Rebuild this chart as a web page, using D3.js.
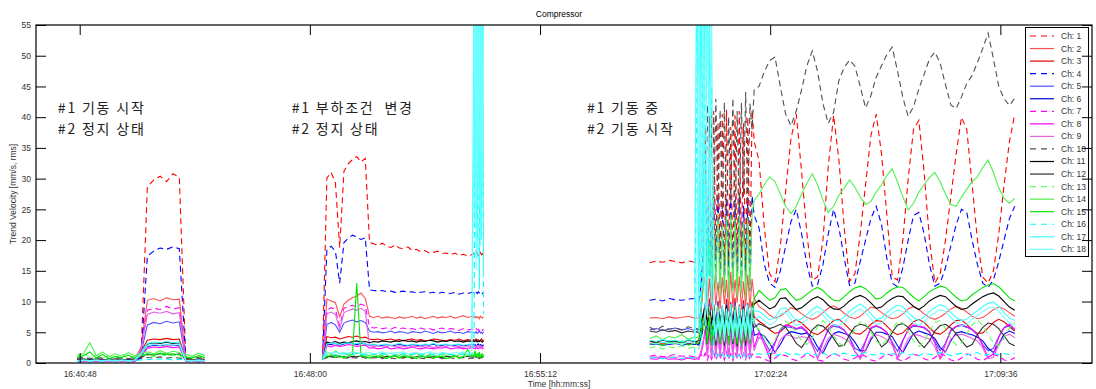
<!DOCTYPE html>
<html>
<head>
<meta charset="utf-8">
<script src="https://cdn.jsdelivr.net/npm/d3@7"></script>
<style>
  body { margin: 0; background: #fff; }
  svg text { font-family: "Liberation Sans", Arial, sans-serif; }
  .note { font-family: "Noto Sans CJK KR", sans-serif; font-size: 14px; fill: #222; letter-spacing: 1.8px; }
</style>
</head>
<body>
<div id="chart"></div>
<script>
// ---- data ----
// each channel = list of runs; run k starts at segStart[k] and steps segStep[k] seconds
const segStart = ["16:40:43", "16:48:24", "16:53:08", "16:58:38", "17:00:06", "17:02:03"]
const segStep = [12, 8, 2, 12, 4, 10]

const ch1 = [
  [0.6,0.5,0.7,0.5,0.6,0.4,0.6,0.5,0.7,0.5,0.8,28.6,29.8,30.4,29.5,30.8,30.2,0.9,0.6,0.5,0.6],
  [2.0,30.1,31.0,29.3,18.8,31.2,32.4,33.1,33.6,32.7,33.3,19.6,19.4,19.1,19.5,19.0,18.8,19.2,18.7,18.6,18.9,18.3,18.5,18.1,18.3,17.9,18.0,18.2,17.8,17.9,17.6,17.9,17.5,17.7,17.4,17.6],
  [17.8,17.5,18.2,17.9,17.4,17.7,18.0,17.6,17.8,17.3],
  [16.3,16.6,16.4,16.7,16.5,16.3,16.6,16.4],
  [16.5,16.2,19.5,28.0,38.5,15.2,40.2,14.0,41.0,16.8,39.2,15.1,40.5,13.4,41.2,16.0,38.4,14.2,40.3,15.3,41.0,17.1,39.0,14.1,40.0,16.2,41.2,36.0],
  [33,22,14.5,13.2,19,28,36.5,40.5,31,21,13.5,14,20,32,40.3,33,22,13.3,14.5,21,29,37,40.5,34,24,14,13.5,20,30,38,39.5,31,20,13,14.5,20,27,34,40,38,29,20,14,13,15,21,29,36,40.5]
]
const ch2 = [
  [0.4,0.5,0.3,0.5,0.4,0.6,0.4,0.5,0.4,0.6,2.5,10.2,10.5,10.1,10.6,10.3,10.4,0.7,0.5,0.4,0.5],
  [1.0,10.4,10.1,9.8,7.5,9.6,10.2,10.6,10.9,11.4,10.5,7.6,7.4,7.6,7.3,7.5,7.4,7.2,7.5,7.3,7.4,7.6,7.3,7.5,7.2,7.4,7.6,7.3,7.5,7.4,7.6,7.3,7.5,7.7,7.4,7.6],
  [7.5,7.3,7.6,7.4,7.5,7.2,7.6,7.4,7.3,7.5],
  [7.3,7.4,7.2,7.5,7.3,7.4,7.6,7.3],
  [7.4,7.2,8.5,12.0,14.2,9.1,13.8,8.6,14.5,9.4,13.2,8.8,14.0,9.6,13.5,8.4,14.8,9.0,13.6,9.8,14.1,8.7,13.3,9.2,14.4,8.9,13.7,10.5],
  [9.2,8.6,7.8,7.3,7.6,8.3,9.0,8.7,8.0,7.4,7.1,7.5,8.2,8.9,9.3,8.8,8.1,7.5,7.2,7.6,8.4,9.1,8.9,8.2,7.6,7.2,7.4,8.0,8.8,9.2,8.7,8.0,7.4,7.1,7.5,8.1,8.8,9.2,8.9,8.3,7.6,7.2,7.4,8.0,8.7,9.1,8.8,8.2,7.6]
]
const ch3 = [
  [0.3,0.4,0.3,0.4,0.3,0.5,0.3,0.4,0.3,0.5,1.8,3.7,3.9,3.8,4.0,3.8,3.9,0.6,0.4,0.3,0.4],
  [0.8,4.3,4.1,4.2,3.9,4.1,4.3,4.2,4.4,4.1,4.2,3.9,3.8,3.9,3.7,3.8,3.9,3.7,3.8,3.6,3.8,3.9,3.7,3.8,3.6,3.7,3.9,3.8,3.7,3.6,3.8,3.7,3.9,3.6,3.8,3.7],
  [3.8,3.6,3.9,3.7,3.8,3.5,3.7,3.9,3.6,3.8],
  [3.2,3.4,3.1,3.3,3.2,3.4,3.1,3.3],
  [3.3,3.1,4.5,7.2,9.8,5.4,10.5,6.0,9.6,5.2,10.1,5.8,9.3,6.3,10.4,5.5,9.9,6.1,10.6,5.3,9.5,6.0,10.2,5.6,9.8,6.2,10.0,7.5],
  [6.8,6.2,5.4,4.8,5.1,5.9,6.6,7.0,6.5,5.7,4.9,4.6,5.2,6.1,6.9,7.1,6.4,5.5,4.8,4.7,5.4,6.3,6.9,6.8,6.0,5.1,4.6,4.9,5.8,6.7,7.1,6.6,5.7,4.9,4.7,5.3,6.2,6.9,7.0,6.3,5.4,4.8,4.9,5.7,6.6,7.1,6.7,5.9,5.2]
]
const ch4 = [
  [0.5,0.4,0.6,0.4,0.5,0.3,0.5,0.4,0.6,0.4,0.7,17.4,18.2,18.7,18.5,18.9,18.6,0.8,0.5,0.4,0.5],
  [1.2,18.5,19.0,18.2,13.0,19.6,20.3,20.8,20.5,20.1,20.4,11.9,11.8,11.7,11.8,11.6,11.7,11.5,11.6,11.7,11.5,11.6,11.4,11.5,11.6,11.4,11.5,11.3,11.5,11.4,11.3,11.5,11.2,11.4,11.3,11.5],
  [11.4,11.2,11.5,11.3,11.6,11.4,11.2,11.5,11.3,11.4],
  [10.2,10.4,10.1,10.5,10.3,10.2,10.4,10.5],
  [10.3,10.1,12.5,18.0,25.5,12.4,27.0,11.8,26.2,13.0,27.4,12.2,25.8,11.5,26.9,12.8,27.3,11.9,26.0,12.6,27.1,12.1,25.6,13.2,26.8,11.7,27.2,24.0],
  [22,16,13,12.3,15,19,23,25,21,16,12.5,12.8,16,21,25,22,17,12.6,13,16.5,20,23.5,25.5,22.5,17,13,12.4,15.5,20,24,24.5,21,16,12.5,13,15.5,19,22.5,25,24.5,20,16,13,12.3,13.5,16.5,20,23.5,25.5]
]
const ch5 = [
  [0.3,0.4,0.3,0.2,0.4,0.3,0.4,0.3,0.2,0.4,1.5,6.2,6.6,6.4,6.8,6.5,6.7,0.5,0.3,0.4,0.3],
  [0.6,6.3,6.6,6.2,5.0,6.5,6.8,7.0,6.7,6.9,6.6,5.2,5.0,5.1,4.9,5.0,5.2,4.9,5.1,5.0,4.8,5.1,5.0,4.9,5.2,5.0,4.8,5.1,4.9,5.0,5.2,4.9,5.0,4.8,5.1,5.0],
  [5.0,4.9,5.1,4.8,5.0,5.2,4.9,5.0,4.8,5.1],
  [5.4,5.6,5.3,5.5,5.7,5.4,5.6,5.3],
  [5.5,5.2,6.5,8.0,9.6,5.0,9.8,4.6,9.4,5.3,10.0,4.8,9.2,5.5,9.7,4.9,9.5,5.1,9.9,4.7,9.3,5.4,9.8,5.0,9.6,4.8,9.4,6.5],
  [5.2,3.6,2.0,3.4,5.3,5.9,5.8,5.5,5.7,5.0,3.3,1.9,3.5,5.4,6.0,5.8,5.3,4.1,2.4,1.9,3.6,5.6,6.0,5.6,5.0,3.4,1.9,3.7,5.4,6.0,5.9,5.7,5.0,3.5,2.0,3.2,5.2,5.9,6.1,5.8,5.4,4.6,3.0,2.0,2.4,4.3,5.7,6.1,5.4]
]
const ch6 = [
  [0.2,0.3,0.2,0.3,0.2,0.3,0.2,0.3,0.2,0.3,1.2,2.7,2.9,2.8,3.0,2.9,2.8,0.4,0.3,0.2,0.3],
  [0.5,3.1,3.0,3.2,2.9,3.1,3.3,3.2,3.0,3.2,3.1,2.9,3.0,2.8,2.9,3.0,2.8,2.9,3.1,2.9,2.8,3.0,2.9,2.8,3.0,2.9,3.1,2.8,2.9,3.0,2.8,2.9,3.0,2.8,2.9,3.0],
  [2.9,3.0,2.8,2.9,3.1,2.8,3.0,2.9,2.8,3.0],
  [3.0,3.1,2.9,3.0,3.2,2.9,3.1,3.0],
  [3.1,2.9,4.0,5.5,7.4,3.2,7.1,2.8,7.6,3.4,7.0,3.0,7.3,2.6,7.5,3.3,6.9,3.1,7.2,2.9,7.6,3.5,7.0,2.7,7.4,3.2,7.1,4.5],
  [4.8,4.4,3.2,1.7,3.0,4.6,5.1,4.9,4.7,4.9,4.2,2.6,1.6,3.4,4.8,5.1,4.8,4.5,3.4,2.0,2.0,3.8,5.0,5.0,4.7,4.3,2.8,1.7,3.3,4.8,5.2,4.9,4.6,4.0,2.5,1.8,3.6,4.9,5.1,4.8,4.6,4.2,3.6,2.4,1.7,3.1,4.7,5.2,4.8]
]
const ch7 = [
  [0.3,0.2,0.3,0.2,0.3,0.2,0.3,0.2,0.3,0.2,2.0,8.6,8.9,8.7,9.2,8.8,9.0,0.4,0.3,0.2,0.3],
  [0.8,8.6,9.0,8.7,6.0,8.9,9.2,9.4,9.1,9.6,9.3,5.9,5.7,5.8,5.6,5.7,5.5,5.8,5.6,5.7,5.5,5.6,5.4,5.7,5.5,5.6,5.4,5.5,5.7,5.4,5.6,5.5,5.3,5.6,5.4,5.5],
  [5.5,5.3,5.6,5.4,5.5,5.2,5.6,5.4,5.3,5.5],
  [1.1,1.3,1.0,1.2,1.4,1.1,1.2,1.0],
  [1.2,1.0,1.4,0.8,1.6,0.5,1.5,0.6,1.7,0.4,1.4,0.7,1.6,0.5,1.8,0.6,1.5,0.4,1.7,0.7,1.4,0.5,1.6,0.6,1.8,0.4,1.5,0.9],
  [1.0,0.6,0.3,0.8,1.4,1.2,0.7,0.4,0.9,1.5,1.1,0.5,0.3,1.0,1.6,1.2,0.6,0.4,0.8,1.4,1.1,0.5,0.3,0.9,1.5,1.2,0.6,0.3,0.8,1.4,1.2,0.7,0.4,0.9,1.6,1.1,0.5,0.3,0.8,1.5,1.2,0.6,0.4,0.9,1.4,1.1,0.5,0.4,0.9]
]
const ch8 = [
  [0.2,0.3,0.2,0.3,0.2,0.3,0.2,0.3,0.2,0.3,1.0,2.4,2.6,2.5,2.7,2.5,2.6,0.3,0.2,0.3,0.2],
  [0.5,2.8,2.6,2.9,2.7,2.8,3.0,2.9,2.7,2.8,2.9,2.4,2.5,2.3,2.4,2.6,2.3,2.4,2.5,2.3,2.4,2.6,2.4,2.3,2.5,2.4,2.3,2.5,2.4,2.6,2.3,2.4,2.5,2.3,2.4,2.5],
  [2.4,2.3,2.5,2.4,2.3,2.5,2.4,2.6,2.3,2.4],
  [0.7,0.6,0.8,0.6,0.7,0.5,0.8,0.6],
  [0.7,0.6,1.5,3.0,5.6,1.2,5.2,0.9,5.8,1.4,5.4,1.0,5.9,1.3,5.1,0.8,5.7,1.2,5.5,1.0,5.8,1.5,5.3,0.9,5.6,1.1,5.4,2.5],
  [5.0,3.0,0.8,3.2,5.5,6.2,6.0,5.6,5.9,5.2,3.0,0.7,3.4,5.6,6.3,6.0,5.4,4.0,1.8,0.9,3.5,5.8,6.1,5.7,5.0,3.2,0.8,3.6,5.5,6.2,6.0,5.8,5.1,3.3,0.8,3.1,5.4,6.0,6.3,5.9,5.5,4.6,2.8,0.9,1.5,4.2,5.8,6.3,5.5]
]
const ch9 = [
  [0.3,0.4,0.3,0.4,0.3,0.4,0.3,0.4,0.3,0.4,2.2,7.9,8.3,8.1,8.4,8.0,8.2,0.5,0.4,0.3,0.4],
  [0.7,8.0,8.3,7.9,5.5,8.2,8.5,8.8,8.6,8.9,8.4,2.8,2.7,2.8,2.6,2.7,2.9,2.6,2.8,2.7,2.5,2.8,2.7,2.6,2.8,2.7,2.5,2.8,2.6,2.7,2.9,2.6,2.7,2.5,2.8,2.7],
  [2.7,2.6,2.8,2.5,2.7,2.9,2.6,2.7,2.5,2.8],
  [0.9,1.0,0.8,1.0,0.9,1.1,0.8,1.0],
  [0.9,0.8,2.0,3.5,4.8,1.0,4.5,0.8,5.0,1.2,4.6,0.9,5.1,1.1,4.4,0.7,4.9,1.0,4.7,0.8,5.0,1.3,4.5,0.9,4.8,1.0,4.6,2.0],
  [4.2,3.5,1.5,1.6,3.8,4.6,4.4,4.0,4.3,4.1,2.8,0.8,2.2,4.0,4.7,4.4,4.0,3.4,1.9,0.6,2.2,4.2,4.6,4.3,3.8,2.9,0.7,2.0,4.0,4.7,4.5,4.2,3.9,2.6,0.6,1.9,3.9,4.5,4.7,4.4,4.0,3.6,2.4,0.7,0.9,3.0,4.3,4.7,4.1]
]
const ch10 = [
  [0.8,0.9,0.7,0.9,0.8,0.7,0.9,0.8,0.7,0.9,0.8,0.9,0.8,1.0,0.8,0.9,0.8,0.7,0.8,0.9,0.7],
  [0.6,0.9,0.8,1.0,0.8,0.9,0.7,0.9,0.8,1.0,0.8,0.7,0.9,0.8,0.7,0.9,0.8,0.7,0.9,0.8,1.0,0.7,0.9,0.8,0.7,0.9,0.8,1.0,0.7,0.8,0.9,0.7,0.8,0.9,0.7,0.8],
  [0.8,0.9,0.7,0.8,0.9,0.7,0.8,0.9,0.7,0.8],
  [5.8,5.3,6.0,5.5,5.7,5.4,5.9,5.6],
  [5.6,5.4,8.0,14.0,30.2,42.0,24.5,40.3,22.1,43.0,25.4,41.2,23.3,42.4,21.5,40.1,26.2,43.1,22.3,41.0,24.2,42.3,27.0,44.1,23.2,42.2,38.0,44.5],
  [45,47.4,49.2,49.8,45,40.5,38.6,41,44.5,48.4,50.8,47.4,42.2,39,40.8,46,48.1,49.3,48.3,45,41.5,43.5,46.5,48.4,50.2,51.4,47.5,43.2,40.1,41.7,44.6,47,49.5,50.6,48.8,45.3,42,41.4,43.3,45.5,46.8,48.9,51.2,53.7,49.5,45,43,41.9,43.1]
]
const ch11 = [
  [0.4,0.5,0.4,0.5,0.4,0.5,0.4,0.5,0.4,0.5,1.5,3.1,3.3,3.2,3.4,3.2,3.3,0.5,0.4,0.5,0.4],
  [0.6,3.4,3.3,3.5,3.2,3.4,3.3,3.5,3.6,3.4,3.5,3.3,3.5,3.4,3.6,3.5,3.4,3.6,3.5,3.7,3.5,3.6,3.4,3.6,3.5,3.7,3.6,3.4,3.6,3.5,3.7,3.5,3.6,3.4,3.6,3.5],
  [3.6,3.5,3.7,3.4,3.6,3.5,3.7,3.5,3.4,3.6],
  [3.6,3.4,3.7,3.5,3.6,3.3,3.7,3.5],
  [3.5,3.7,5.5,7.8,9.2,6.1,8.8,6.4,9.3,5.8,9.0,6.6,8.7,6.2,9.4,5.9,8.9,6.5,9.1,6.0,8.6,6.3,9.2,6.1,9.0,6.4,8.8,9.6],
  [10.2,9.5,8.8,9.2,10.5,10.6,9.6,8.7,9.0,9.7,10.4,10.8,10.3,9.4,8.8,8.7,9.3,10.1,10.7,11.0,10.6,9.8,8.9,9.1,9.9,10.5,10.9,10.8,10.0,9.2,8.7,9.3,10.1,10.6,11.0,10.8,10.0,9.2,8.7,8.9,9.6,10.2,10.8,11.2,11.4,10.9,10.0,9.1,8.6]
]
const ch12 = [
  [0.6,0.7,0.5,0.7,0.6,0.5,0.7,0.6,0.5,0.7,0.9,1.4,1.3,1.5,1.4,1.3,1.5,0.6,0.5,0.7,0.6],
  [0.5,1.1,1.0,1.2,1.0,1.1,0.9,1.1,1.0,1.2,1.0,0.9,1.1,1.0,0.9,1.1,1.0,1.2,0.9,1.0,1.1,0.9,1.0,1.2,1.0,0.9,1.1,1.0,0.9,1.1,1.0,1.2,0.9,1.0,1.1,1.0],
  [1.0,1.1,0.9,1.0,1.2,0.9,1.0,1.1,0.9,1.0],
  [5.2,5.0,5.4,5.1,5.3,4.9,5.2,5.0],
  [5.1,4.9,4.5,5.8,6.5,3.0,6.2,3.4,6.8,2.8,6.4,3.2,6.6,2.9,6.1,3.5,6.7,3.1,6.3,2.7,6.5,3.3,6.9,3.0,6.2,3.4,6.6,5.8],
  [6.4,6.0,5.6,5.9,6.3,5.8,4.6,3.2,2.5,3.8,5.4,6.2,6.0,5.2,4.0,2.7,2.9,4.6,5.9,6.3,6.1,5.4,4.1,2.6,3.3,5.0,6.2,6.4,5.8,4.7,3.4,2.5,3.6,5.2,6.1,6.3,5.7,4.8,3.6,2.6,3.0,4.6,5.8,6.5,6.3,5.6,4.4,3.2,2.8]
]
const ch13 = [
  [1.0,1.6,0.9,1.3,0.8,1.2,0.9,1.4,0.8,1.1,1.3,1.2,1.0,1.4,1.1,1.3,1.0,1.1,0.9,1.3,0.8],
  [1.0,1.2,1.4,1.0,1.3,0.9,1.2,1.5,1.0,1.3,1.1,0.9,1.2,1.0,1.3,0.8,1.1,1.2,0.9,1.3,1.0,1.1,0.8,1.2,1.0,1.3,0.9,1.1,1.2,0.8,1.0,1.3,0.9,1.1,1.0,1.2],
  [1.1,1.3,0.9,1.2,1.0,1.4,0.9,1.1,1.3,1.0],
  [2.4,2.7,2.3,2.6,2.5,2.8,2.4,2.6],
  [2.5,2.3,3.5,5.0,8.6,4.0,9.2,3.6,8.8,4.3,9.5,3.8,8.4,4.1,9.0,3.5,8.7,4.4,9.3,3.9,8.5,4.2,9.1,3.7,8.9,4.0,9.4,6.0],
  [5.5,4.2,3.0,3.8,5.5,6.8,6.2,4.9,3.6,3.0,4.1,5.9,6.9,6.0,4.5,3.2,2.8,3.9,5.6,6.7,6.4,5.0,3.5,2.9,3.7,5.4,6.8,6.5,5.1,3.6,2.7,3.5,5.2,6.6,6.9,5.6,4.0,2.9,3.3,4.8,6.2,7.0,6.1,4.6,3.3,2.8,4.0,5.7,6.6]
]
const ch14 = [
  [1.3,1.5,3.3,1.2,1.8,1.0,1.5,1.1,1.7,1.2,1.6,1.8,1.5,2.0,1.6,1.9,1.7,1.4,1.1,1.6,1.2],
  [1.2,1.8,1.4,2.0,1.5,1.7,1.3,1.9,1.5,1.6,1.4,1.2,1.5,1.1,1.6,1.3,1.0,1.4,1.2,1.5,1.1,1.3,1.6,1.2,1.0,1.4,1.3,1.1,1.5,1.2,1.4,1.0,1.3,1.5,1.2,1.4],
  [1.3,1.5,1.1,1.4,1.2,1.6,1.0,1.3,1.5,1.2],
  [4.0,4.4,3.8,4.3,4.1,4.6,3.9,4.2],
  [4.1,4.3,8.0,14.0,23.5,11.2,24.0,10.5,23.2,11.8,24.4,10.9,22.8,11.4,23.9,10.6,24.2,11.6,23.4,10.8,24.1,11.3,22.9,10.7,23.6,11.5,24.3,26.5],
  [27.5,29,30.3,29.5,27.5,25.5,24.3,25.5,27.5,29.3,30.8,29,26.5,24.5,25.5,27.3,28.5,29.8,28.6,27,25.8,26.3,27.8,29,30.5,31.6,29.5,27,24.9,26,27.8,29,30.2,31,29.5,27.5,25.8,25.5,27,28.3,29.5,30.3,31.8,33,31,28.5,26.8,26,26.8]
]
const ch15 = [
  [0.9,1.2,1.8,0.8,1.4,0.7,1.1,0.9,1.3,0.8,1.2,1.5,1.3,1.6,1.4,1.5,1.3,1.0,0.8,1.2,0.9],
  [0.8,1.0,1.3,0.9,1.2,0.8,1.1,1.4,13.0,1.2,1.0,0.8,1.1,0.9,1.2,0.7,1.0,1.1,0.8,1.2,0.9,1.0,0.7,1.1,0.9,1.2,0.8,1.0,1.1,0.7,0.9,1.2,0.8,1.0,2.2,1.1],
  [1.2,2.0,0.9,1.5,1.1,1.8,0.8,1.4,1.0,1.3],
  [3.0,3.3,2.8,3.4,3.1,3.6,2.9,3.2],
  [3.1,3.3,5.0,7.2,7.0,3.2,7.4,2.8,6.8,3.5,7.3,3.0,6.9,3.3,7.5,2.9,7.1,3.4,6.7,3.1,7.2,2.7,7.0,3.6,6.8,3.0,7.4,10.5],
  [11.8,11.0,10.2,10.6,11.9,12.1,11.1,10.2,10.5,11.2,11.9,12.3,11.8,10.9,10.2,10.1,10.8,11.6,12.2,12.5,12.1,11.3,10.4,10.6,11.4,12.0,12.4,12.3,11.5,10.7,10.1,10.8,11.6,12.1,12.5,12.3,11.5,10.7,10.1,10.3,11.1,11.7,12.3,12.7,12.9,12.4,11.5,10.6,10.1]
]
const ch16 = [
  [0.3,0.4,0.3,0.4,0.3,0.4,0.3,0.4,0.3,0.4,0.5,0.6,0.5,0.7,0.6,0.5,0.6,0.4,0.3,0.4,0.3],
  [0.9,1.4,1.5,1.3,1.4,1.5,1.3,1.4,1.6,1.4,1.3,1.5,1.4,1.3,1.5,1.4,1.6,1.3,1.4,1.5,1.3,1.4,1.6,1.4,1.3,1.5,1.4,1.3,1.5,1.6,1.4,1.3,1.5,1.4,1.3,1.5],
  [3,35,64,20,58,12,70,26,61,8],
  [0.8,0.9,0.7,0.8,1.0,0.7,0.9,0.8],
  [40,66,3,58,22,72,14,45,1.2,0.8,1.4,0.9,1.5,0.7,1.3,1.0,1.6,0.8,1.4,1.1,1.3,0.9,1.5,0.8,1.4,1.0,1.2,1.4],
  [1.5,1.3,1.6,1.2,1.4,1.7,1.3,1.5,1.2,1.6,1.4,1.3,1.7,1.2,1.5,1.4,1.6,1.3,1.2,1.5,1.7,1.4,1.3,1.6,1.2,1.5,1.4,1.7,1.3,1.5,1.2,1.6,1.4,1.3,1.7,1.5,1.2,1.4,1.6,1.3,1.5,1.7,1.2,1.4,1.6,1.3,1.5,1.4,1.6]
]
const ch17 = [
  [0.4,0.5,0.4,0.5,0.4,0.5,0.4,0.5,0.4,0.5,1.6,3.2,3.4,3.3,3.5,3.3,3.4,0.5,0.4,0.5,0.4],
  [0.5,3.1,3.3,3.2,3.0,3.2,3.3,3.1,3.2,3.3,3.1,3.0,3.1,2.9,3.0,3.1,2.9,3.0,3.2,3.0,2.9,3.1,3.0,2.9,3.1,3.0,3.2,2.9,3.0,3.1,2.9,3.0,3.1,2.9,3.0,3.1],
  [60,22,70,17,65,25,72,20,66,14],
  [3.7,3.5,3.8,3.6,3.7,3.4,3.8,3.6],
  [70,5,65,12,75,8,60,10,9.0,4.5,8.6,5.2,9.4,4.8,8.9,5.5,9.6,4.6,8.7,5.1,9.3,4.9,8.8,5.3,9.5,4.7,9.0,8.5],
  [8.4,7.7,7.0,7.4,8.8,9.0,7.9,6.9,7.2,7.9,8.7,9.2,8.6,7.6,7.0,6.9,7.5,8.4,9.1,9.6,9.0,8.0,7.1,7.3,8.2,8.9,9.4,9.2,8.2,7.4,6.9,7.5,8.4,9.0,9.5,9.2,8.2,7.4,6.9,7.1,7.9,8.5,9.2,9.7,9.9,9.2,8.2,7.3,6.9]
]
const ch18 = [
  [0.3,0.4,0.3,0.4,0.3,0.4,0.3,0.4,0.3,0.4,1.4,2.8,3.0,2.9,3.1,2.9,3.0,0.4,0.3,0.4,0.3],
  [0.4,1.7,1.6,1.8,1.5,1.7,1.6,1.8,1.7,1.5,1.6,1.7,1.5,1.6,1.8,1.6,1.5,1.7,1.6,1.8,1.5,1.6,1.7,1.5,1.6,1.8,1.6,1.5,1.7,1.6,1.5,1.7,1.6,1.8,1.5,1.6],
  [40,70,15,68,28,75,19,62,30,58],
  [3.3,3.1,3.4,3.2,3.3,3.0,3.4,3.2],
  [8,62,15,70,6,68,20,58,7.2,3.8,6.9,4.2,7.5,3.6,7.0,4.4,7.6,3.9,6.8,4.1,7.3,3.7,7.1,4.3,7.4,3.8,6.9,7.0],
  [7.6,6.9,6.2,6.6,8.0,8.2,7.1,6.1,6.4,7.1,7.9,8.4,7.8,6.8,6.2,6.1,6.7,7.6,8.3,8.8,8.2,7.2,6.3,6.5,7.4,8.1,8.6,8.4,7.4,6.6,6.1,6.7,7.6,8.2,8.7,8.4,7.4,6.6,6.1,6.3,7.1,7.7,8.4,8.9,9.1,8.4,7.4,6.5,6.1]
]

const channels = [ch1, ch2, ch3, ch4, ch5, ch6, ch7, ch8, ch9, ch10, ch11, ch12, ch13, ch14, ch15, ch16, ch17, ch18]
const chNames = ["Ch: 1", "Ch: 2", "Ch: 3", "Ch: 4", "Ch: 5", "Ch: 6", "Ch: 7", "Ch: 8", "Ch: 9",
  "Ch: 10", "Ch: 11", "Ch: 12", "Ch: 13", "Ch: 14", "Ch: 15", "Ch: 16", "Ch: 17", "Ch: 18"]
const chColors = ["#ff0000", "#ff5050", "#e60000", "#0000ff", "#5050ff", "#0000e6", "#ff00ff", "#ff00ff", "#e860e8",
  "#505050", "#000000", "#303030", "#60ff60", "#50f050", "#00e600", "#00ffff", "#40ffff", "#70ffff"]
const chDashed = [true, false, false, true, false, false, true, false, false,
  true, false, false, true, false, false, true, false, false]

const timeDomain = ["16:39:26", "17:12:28"]
const xTickLabels = ["16:40:48", "16:48:00", "16:55:12", "17:02:24", "17:09:36"]
const yTickValues = [0, 5, 10, 15, 20, 25, 30, 35, 40, 45, 50, 55]

const noteLines = [
  ["#1 기동 시작", "#2 정지 상태"],
  ["#1 부하조건  변경", "#2 정지 상태"],
  ["#1 기동 중", "#2 기동 시작"]
]
const noteTimes = ["16:40:07", "16:47:26", "16:56:40"]
const noteLevel = 40.6

// ---- layout ----
const W = 1096, H = 389
const mL = 36, mR = 1092, mT = 25, mB = 363

const parse = d3.timeParse("%H:%M:%S")

const x = d3.scaleTime().domain(timeDomain.map(parse)).range([mL, mR])
const y = d3.scaleLinear().domain([0, 55]).range([mB, mT])

const svg = d3.select("#chart").append("svg")
  .attr("width", W)
  .attr("height", H)

svg.append("defs").append("clipPath").attr("id", "plot")
  .append("rect")
  .attr("x", mL).attr("y", mT)
  .attr("width", mR - mL).attr("height", mB - mT)

// turn run lists into time/value points, break where the log stops
const toPoints = (runs) => {
  const pts = []
  runs.forEach((vals, k) => {
    const t0 = parse(segStart[k])
    vals.forEach((v, i) => {
      const t = new Date(t0.getTime() + i * segStep[k] * 1000)
      if (pts.length && t - pts[pts.length - 1].t > 60000) pts.push({ gap: true, t })
      pts.push({ t, v })
    })
  })
  return pts
}

const line = d3.line()
  .defined(d => !d.gap)
  .x(d => x(d.t))
  .y(d => y(d.v))

const plot = svg.append("g").attr("clip-path", "url(#plot)")

channels.forEach((runs, i) => {
  plot.append("path")
    .datum(toPoints(runs))
    .attr("fill", "none")
    .attr("stroke", chColors[i])
    .attr("stroke-width", 1.1)
    .attr("stroke-dasharray", chDashed[i] ? "6,4" : null)
    .attr("d", line)
})

// annotations: one text block per note, second line as tspan
noteLines.forEach((lines, k) => {
  const nx = x(parse(noteTimes[k]))
  const t = svg.append("text")
    .attr("class", "note")
    .attr("x", nx)
    .attr("y", y(noteLevel))
    .style("white-space", "pre")
  lines.forEach((txt, j) => {
    t.append("tspan")
      .attr("x", nx)
      .attr("dy", j ? 21 : 0)
      .text(txt)
  })
})

// legend
const lg = svg.append("g").attr("class", "legend")
lg.append("rect")
  .attr("x", 1025.5).attr("y", 27.5)
  .attr("width", 63).attr("height", 229)
  .attr("fill", "#fff").attr("stroke", "#000").attr("stroke-width", 1)

chNames.forEach((name, i) => {
  const cy = 36 + i * 12.55
  lg.append("line")
    .attr("x1", 1030).attr("x2", 1054)
    .attr("y1", cy).attr("y2", cy)
    .attr("stroke", chColors[i])
    .attr("stroke-width", 1.2)
    .attr("stroke-dasharray", chDashed[i] ? "6,5" : null)
  lg.append("text")
    .attr("x", 1061).attr("y", cy)
    .attr("dy", "0.35em")
    .attr("font-size", "8.5px")
    .attr("fill", "#333")
    .text(name)
})

// axes (ticks point inward, box on)
const xTicks = xTickLabels.map(parse)
const fmt = d3.timeFormat("%H:%M:%S")

const styleAxis = (g) => {
  g.select(".domain").remove()
  g.selectAll(".tick line").attr("stroke", "#000")
  g.selectAll(".tick text").attr("font-size", "8.5px").attr("fill", "#333")
}

svg.append("g")
  .attr("transform", `translate(0,${mB})`)
  .call(d3.axisBottom(x).tickValues(xTicks).tickFormat(fmt).tickSize(-10).tickPadding(8))
  .call(styleAxis)

svg.append("g")
  .attr("transform", `translate(0,${mT})`)
  .call(d3.axisTop(x).tickValues(xTicks).tickFormat("").tickSize(-10))
  .call(styleAxis)

svg.append("g")
  .attr("transform", `translate(${mL},0)`)
  .call(d3.axisLeft(y).tickValues(yTickValues).tickSize(-10).tickPadding(5))
  .call(styleAxis)

svg.append("g")
  .attr("transform", `translate(${mR},0)`)
  .call(d3.axisRight(y).tickValues(yTickValues).tickFormat("").tickSize(-10))
  .call(styleAxis)

svg.append("rect")
  .attr("x", mL).attr("y", mT)
  .attr("width", mR - mL).attr("height", mB - mT)
  .attr("fill", "none").attr("stroke", "#000").attr("stroke-width", 1.2)

// titles
svg.append("text")
  .attr("x", (mL + mR) / 2 - 5).attr("y", 17)
  .attr("text-anchor", "middle")
  .attr("font-size", "8.5px")
  .text("Compressor")

svg.append("text")
  .attr("x", (mL + mR) / 2 - 5).attr("y", 387)
  .attr("text-anchor", "middle")
  .attr("font-size", "8.5px")
  .attr("fill", "#333")
  .text("Time [hh:mm:ss]")

svg.append("text")
  .attr("transform", `translate(16,${(mT + mB) / 2}) rotate(-90)`)
  .attr("text-anchor", "middle")
  .attr("font-size", "8.5px")
  .attr("fill", "#333")
  .text("Trend Velocity [mm/s, rms]")
</script>
</body>
</html>
